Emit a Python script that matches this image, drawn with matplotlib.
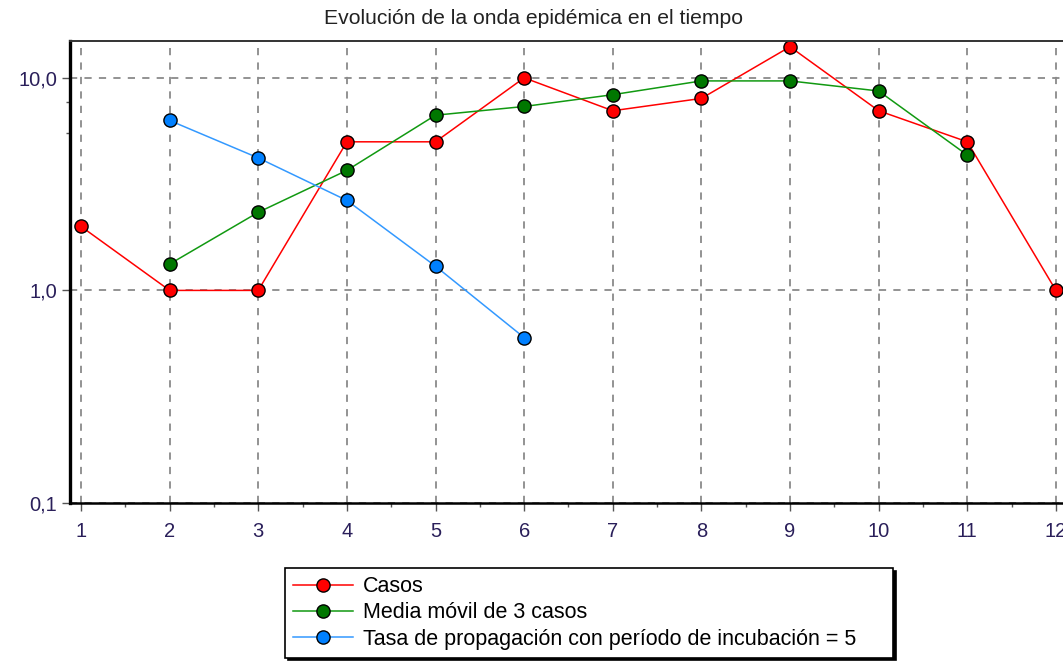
import numpy as np
import matplotlib
matplotlib.use("Agg")
import matplotlib.pyplot as plt
from matplotlib.ticker import FixedLocator, FuncFormatter

plt.rcParams["font.family"] = ["Liberation Sans", "DejaVu Sans"]

# data
semanas = [1, 2, 3, 4, 5, 6, 7, 8, 9, 10, 11, 12]
casos = [2, 1, 1, 5, 5, 10, 7, 8, 14, 7, 5, 1]
media_x = [2, 3, 4, 5, 6, 7, 8, 9, 10, 11]
media_movil = [1.33, 2.33, 3.67, 6.67, 7.33, 8.33, 9.67, 9.67, 8.67, 4.33]
tasa_x = [2, 3, 4, 5, 6]
tasa = [6.3, 4.2, 2.65, 1.3, 0.6]

W, H = 1063, 661
fig = plt.figure(figsize=(W / 100, H / 100), dpi=100)
ax = fig.add_axes([70 / W, 1 - 503 / H, (W - 70) / W, (503 - 41) / H])

mk = dict(marker="o", markersize=9.5, markeredgecolor="black", markeredgewidth=1.0, linewidth=1.1)
ax.plot(semanas, casos, color="#ff0000", markerfacecolor="#ff0000", label="Casos", **mk)
ax.plot(media_x, media_movil, color="#119911", markerfacecolor="#007700", label="Media móvil de 3 casos", **mk)
ax.plot(tasa_x, tasa, color="#3399ff", markerfacecolor="#0080ff",
        label="Tasa de propagación con período de incubación = 5", **mk)

ax.set_yscale("log")
ax.set_ylim(0.1, 14.9)
ax.set_xlim(0.876, 12.08)

ax.yaxis.set_major_locator(FixedLocator([0.1, 1, 10]))
ax.yaxis.set_major_formatter(FuncFormatter(lambda v, p: f"{v:.1f}".replace(".", ",")))
ax.yaxis.set_minor_locator(FixedLocator([5.5, 7.7]))
ax.yaxis.set_minor_formatter(FuncFormatter(lambda v, p: ""))
ax.set_xticks(semanas)
ax.set_xticks([x + 0.5 for x in semanas[:-1]], minor=True)

ax.grid(True, which="major", color="#8a8a8a", linestyle=(0, (4, 4)), linewidth=1.3)
ax.tick_params(axis="both", which="major", length=6, width=1, color="#555555",
               labelsize=14.5, labelcolor="#2a1f5a")
ax.tick_params(axis="both", which="minor", length=3, width=1, color="#555555")
ax.tick_params(axis="x", pad=8)
ax.tick_params(axis="y", pad=3)

ax.spines["left"].set_linewidth(2.4)
ax.spines["left"].set_color("black")
ax.spines["bottom"].set_linewidth(1.8)
ax.spines["bottom"].set_color("black")
ax.spines["top"].set_linewidth(1.4)
ax.spines["top"].set_color("#333333")
ax.spines["right"].set_visible(False)

fig.text(534 / W, 1 - 18 / H, "Evolución de la onda epidémica en el tiempo",
         ha="center", va="center", fontsize=15.2, color="#222222")

# legend box stretched to the reference width (285 -> 893 px)
leg = fig.legend(loc="upper left", bbox_to_anchor=(285 / W, 1 - 658 / H, 608 / W, 90 / H),
                 mode="expand", borderaxespad=0,
                 fontsize=15.5, frameon=True, fancybox=False, edgecolor="black",
                 shadow={"color": "black", "alpha": 1}, handlelength=2.8,
                 labelspacing=0.24, borderpad=0.38, handletextpad=0.45)
leg.get_frame().set_linewidth(1.2)

fig.savefig("out.png", dpi=100)
